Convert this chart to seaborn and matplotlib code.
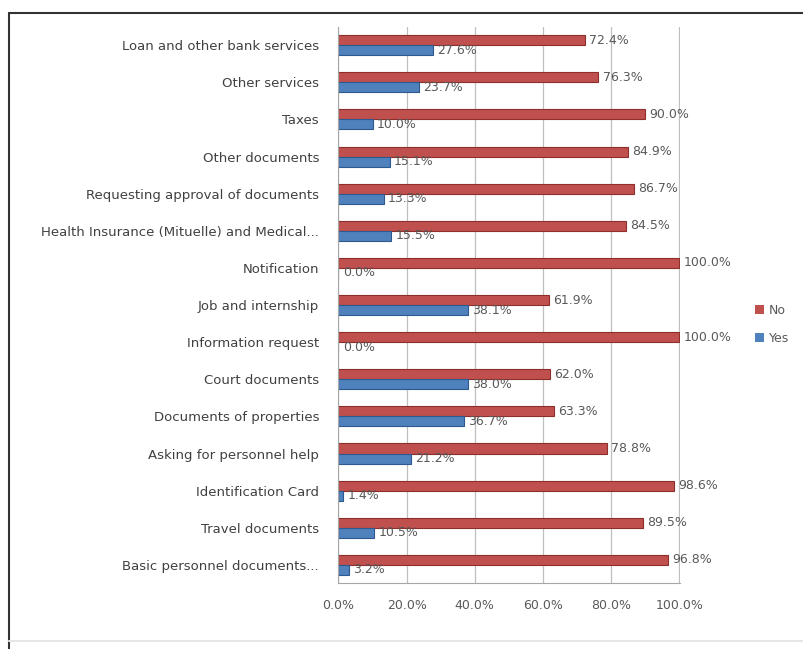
import matplotlib
matplotlib.use("Agg")
import matplotlib.pyplot as plt
from matplotlib.lines import Line2D
from matplotlib.patches import Patch
import pandas as pd
import seaborn as sns

# categories listed top to bottom
services = ["Loan and other bank services", "Other services", "Taxes",
            "Other documents", "Requesting approval of documents",
            "Health Insurance (Mituelle) and Medical...", "Notification",
            "Job and internship", "Information request", "Court documents",
            "Documents of properties", "Asking for personnel help",
            "Identification Card", "Travel documents",
            "Basic personnel documents..."]
no_pct = [72.4, 76.3, 90.0, 84.9, 86.7, 84.5, 100.0, 61.9, 100.0, 62.0,
          63.3, 78.8, 98.6, 89.5, 96.8]
yes_pct = [27.6, 23.7, 10.0, 15.1, 13.3, 15.5, 0.0, 38.1, 0.0, 38.0,
           36.7, 21.2, 1.4, 10.5, 3.2]
x_ticks = [0, 20, 40, 60, 80, 100]

df = pd.DataFrame({
    "service": services * 2,
    "pct": no_pct + yes_pct,
    "answer": ["No"] * len(services) + ["Yes"] * len(services),
})

sns.set_style("white")
plt.rcParams["font.family"] = ["DejaVu Sans"]

fig = plt.figure(figsize=(8.04, 6.49), dpi=100)
ax = fig.add_axes([0.421, 0.101, 0.425, 0.858])

pal = {"No": "#C0504D", "Yes": "#4F81BD"}
sns.barplot(data=df, x="pct", y="service", hue="answer",
            hue_order=["No", "Yes"], order=services, palette=pal,
            width=0.54, orient="h", ax=ax, saturation=1,
            linewidth=0.8, legend=False)

for cont, ec in zip(ax.containers, ["#8c2f2c", "#2c5a8f"]):
    for p in cont:
        p.set_edgecolor(ec)
    ax.bar_label(cont, fmt="%.1f%%", padding=3, fontsize=9, color="#595959")

ax.set_xlim(0, 100.3)
ax.set_ylim(len(services) - 0.5, -0.5)
ax.set_xticks(x_ticks)
ax.set_xticklabels([f"{t:.1f}%" for t in x_ticks], fontsize=9, color="#595959")
ax.tick_params(axis="x", pad=11, length=0)
ax.tick_params(axis="y", labelsize=9.5, colors="#404040", length=0, pad=14)
ax.xaxis.grid(True, color="#bfbfbf", linewidth=0.9)
ax.set_axisbelow(True)
ax.set_xlabel("")
ax.set_ylabel("")
for side in ["top", "right"]:
    ax.spines[side].set_visible(False)
for side in ["left", "bottom"]:
    ax.spines[side].set_color("#a6a6a6")

handles = [Patch(facecolor=pal[k], edgecolor="none", label=k) for k in ["No", "Yes"]]
ax.legend(handles=handles, loc="center left", bbox_to_anchor=(0.925, 0.5),
          bbox_transform=fig.transFigure, frameon=False, fontsize=9,
          handlelength=0.7, handleheight=0.7, handletextpad=0.4,
          labelcolor="#595959", labelspacing=1.2)

# outer frame like the original screenshot
fig.add_artist(Line2D([9 / 804, 9 / 804], [0, 1 - 13 / 649],
                      transform=fig.transFigure, color="#333333", lw=1.5))
fig.add_artist(Line2D([9 / 804, 1], [1 - 13 / 649, 1 - 13 / 649],
                      transform=fig.transFigure, color="#333333", lw=1.5))
fig.add_artist(Line2D([9 / 804, 1], [1 - 641 / 649, 1 - 641 / 649],
                      transform=fig.transFigure, color="#e6e6e6", lw=1.5))

fig.savefig("out.png", dpi=100)
